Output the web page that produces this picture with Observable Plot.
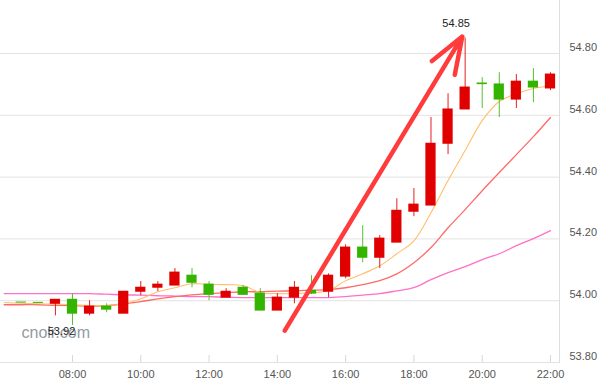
<!DOCTYPE html>
<html>
<head>
<meta charset="utf-8">
<script src="https://cdn.jsdelivr.net/npm/d3@7"></script>
<script src="https://cdn.jsdelivr.net/npm/@observablehq/plot@0.6"></script>
<style>
  html, body { margin: 0; padding: 0; background: #fff; }
  svg { display: block; }
</style>
</head>
<body>
<script>
// Time slots (30-minute steps)
const times = ["06:00","06:30","07:00","07:30","08:00","08:30","09:00","09:30","10:00","10:30","11:00","11:30","12:00","12:30","13:00","13:30","14:00","14:30","15:00","15:30","16:00","16:30","17:00","17:30","18:00","18:30","19:00","19:30","20:00","20:30","21:00","21:30","22:00"];

// Candles (06:30 .. 22:00)
const candleTimes = times.slice(1);
const open  = [53.994,53.993,53.990,54.003,53.958,53.981,53.958,54.029,54.042,54.049,54.081,54.052,54.010,54.042,54.023,53.968,54.010,54.032,54.029,54.078,54.172,54.139,54.188,54.288,54.308,54.508,54.619,54.703,54.700,54.651,54.709,54.687];
const high  = [53.994,53.993,54.003,54.023,54.000,53.990,54.029,54.062,54.062,54.104,54.104,54.062,54.039,54.049,54.039,54.023,54.062,54.081,54.087,54.181,54.243,54.211,54.330,54.363,54.593,54.670,54.850,54.722,54.738,54.732,54.751,54.738];
const low   = [53.994,53.993,53.951,53.920,53.951,53.961,53.958,54.016,54.029,54.049,54.042,54.000,54.010,54.019,53.968,53.968,53.990,54.020,54.010,54.071,54.123,54.104,54.188,54.272,54.308,54.473,54.619,54.622,54.593,54.622,54.641,54.680];
const close = [53.994,53.993,54.003,53.958,53.981,53.971,54.029,54.042,54.052,54.091,54.058,54.019,54.029,54.019,53.968,54.010,54.042,54.023,54.081,54.172,54.139,54.201,54.291,54.311,54.508,54.619,54.690,54.701,54.651,54.709,54.690,54.732];

// Moving-average lines (06:00 .. 22:00)
const maOrange = [53.994,53.992,53.990,53.989,53.987,53.984,53.984,53.990,54.006,54.029,54.042,54.055,54.053,54.052,54.049,54.026,54.023,54.023,54.026,54.032,54.065,54.087,54.113,54.152,54.194,54.285,54.389,54.486,54.583,54.645,54.670,54.687,54.696];
const maRed    = [53.987,53.987,53.987,53.985,53.984,53.982,53.984,53.990,53.997,54.006,54.013,54.019,54.023,54.026,54.029,54.029,54.031,54.032,54.034,54.036,54.042,54.052,54.065,54.087,54.123,54.172,54.236,54.295,54.356,54.415,54.473,54.531,54.593];
const maPink   = [54.023,54.023,54.023,54.023,54.023,54.023,54.021,54.019,54.018,54.016,54.015,54.013,54.013,54.011,54.010,54.010,54.010,54.010,54.010,54.010,54.013,54.018,54.023,54.032,54.042,54.068,54.091,54.110,54.133,54.152,54.178,54.201,54.227];

// Axis ticks
const xTicks = [8, 10, 12, 14, 16, 18, 20, 22];
const yTicks = [53.80, 54.00, 54.20, 54.40, 54.60, 54.80];

// Annotations
const arrowFrom = {t: "14:13", p: 53.903};
const arrowTo   = {t: "19:25", p: 54.855};
const maxLabel = {t: "19:30", p: 54.85, text: "54.85"};
const minLabel = {t: "08:00", p: 53.92, text: "53.92"};
const watermark = "cnoir.com";

const hours = s => +s.slice(0, 2) + +s.slice(3) / 60;

const candles = candleTimes.map((s, i) => ({
  t: hours(s), o: open[i], h: high[i], l: low[i], c: close[i]
}));
const RED = "#e00000", GREEN = "#33b500";
const col = d => (d.c > d.o ? RED : GREEN);
const wickCol = d => (d.c > d.o ? "#e62020" : "#55c030");

const series = (arr) => times.map((s, i) => ({t: hours(s), v: arr[i]}));

const chart = Plot.plot({
  width: 600,
  height: 380,
  marginLeft: 0,
  marginRight: 41,
  marginTop: 0,
  marginBottom: 18,
  x: {domain: [5.891, 22.264], label: null},
  y: {domain: [53.80, 54.9717], label: null},
  style: {fontFamily: "'Liberation Sans', Arial, sans-serif", fontSize: "11px", background: "#fff"},
  marks: [
    Plot.gridY(yTicks, {stroke: "#e3e3e3", strokeOpacity: 1}),
    Plot.frame({anchor: "right", stroke: "#dedede"}),
    Plot.axisY(yTicks, {anchor: "right", tickSize: 0, tickPadding: 10, dy: -6, textAnchor: "start",
      tickFormat: d3.format(".2f"), fill: "#555", fontSize: 11, label: null}),
    Plot.ruleX(xTicks, {stroke: "#d8d8d8", insetTop: 355}),
    Plot.axisX(xTicks, {tickSize: 0, tickPadding: 8, fill: "#555", fontSize: 11, label: null,
      tickFormat: h => String(h).padStart(2, "0") + ":00"}),
    Plot.text([watermark], {frameAnchor: "bottom-left", dx: 21, dy: -25, textAnchor: "start",
      fontSize: 16, fill: "#929aa3"}),
    Plot.line(series(maPink),   {x: "t", y: "v", stroke: "#ff70c8", strokeWidth: 1.3, curve: "catmull-rom"}),
    Plot.line(series(maRed),    {x: "t", y: "v", stroke: "#ff6a6a", strokeWidth: 1.3, curve: "catmull-rom"}),
    Plot.line(series(maOrange), {x: "t", y: "v", stroke: "#ffbf6a", strokeWidth: 1.1, curve: "catmull-rom"}),
    Plot.ruleX(candles, {x: "t", y1: "l", y2: "h", stroke: wickCol, strokeWidth: 1}),
    Plot.rect(candles, {x1: d => d.t - 0.15, x2: d => d.t + 0.15, y1: "o", y2: "c", fill: col,
      insetTop: -0.5, insetBottom: -0.5}),
    Plot.arrow([{a: arrowFrom, b: arrowTo}], {
      x1: d => hours(d.a.t), y1: d => d.a.p, x2: d => hours(d.b.t), y2: d => d.b.p,
      stroke: "#ff3b3b", strokeWidth: 4.5, headLength: 13, headAngle: 40, bend: 0
    }),
    Plot.text([maxLabel], {x: d => hours(d.t), y: "p", text: "text", dx: -9, dy: -15, fill: "#222", fontSize: 11}),
    Plot.text([minLabel], {x: d => hours(d.t), y: "p", text: "text", dx: -11, dy: 6, fill: "#222", fontSize: 11})
  ]
});
document.body.appendChild(chart);
</script>
</body>
</html>
